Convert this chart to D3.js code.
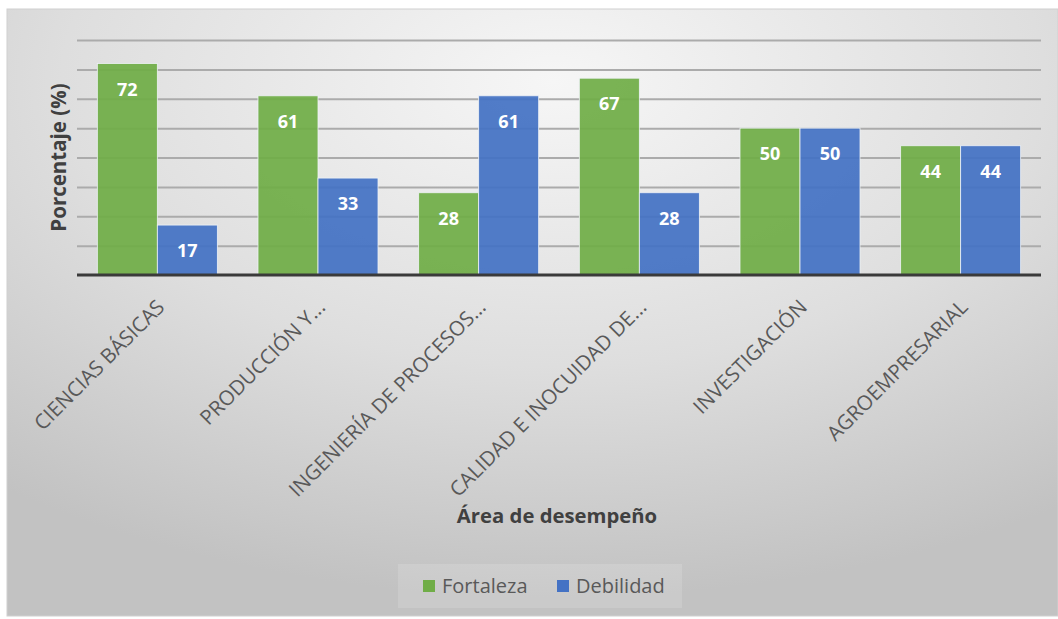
<!DOCTYPE html>
<html>
<head>
<meta charset="utf-8">
<script src="https://cdn.jsdelivr.net/npm/d3@7"></script>
<style>
  html, body { margin: 0; padding: 0; background: #ffffff; }
  svg { display: block; }
</style>
</head>
<body>
<svg id="chart" width="1058" height="619"></svg>
<script>
// Categories (already shortened the way they appear on the axis)
const categories = [
  "CIENCIAS BÁSICAS",
  "PRODUCCIÓN Y...",
  "INGENIERÍA DE PROCESOS...",
  "CALIDAD E INOCUIDAD DE...",
  "INVESTIGACIÓN",
  "AGROEMPRESARIAL"
];
const seriesNames = ["Fortaleza", "Debilidad"];
const fortaleza = [72, 61, 28, 67, 50, 44];
const debilidad = [17, 33, 61, 28, 50, 44];
const gridTicks = [10, 20, 30, 40, 50, 60, 70, 80];

const colors = { Fortaleza: "#70AD47", Debilidad: "#4472C4" };
const font = "'Open Sans', 'Noto Sans', sans-serif";

const svg = d3.select("#chart");
const W = 1058, H = 619;

// Chart area background with a soft radial gradient
const defs = svg.append("defs");
const grad = defs.append("radialGradient")
  .attr("id", "bg")
  .attr("cx", "52%").attr("cy", "12%")
  .attr("r", "85%")
  .attr("fx", "52%").attr("fy", "12%");
grad.append("stop").attr("offset", "0%").attr("stop-color", "#f6f6f6");
grad.append("stop").attr("offset", "55%").attr("stop-color", "#dedede");
grad.append("stop").attr("offset", "100%").attr("stop-color", "#c2c2c2");

svg.append("rect")
  .attr("x", 7).attr("y", 9)
  .attr("width", W - 7).attr("height", H - 12)
  .attr("fill", "url(#bg)")
  .attr("stroke", "#d0d0d0").attr("stroke-width", 1);

// Plot area
const plot = { left: 77, right: 1041, top: 40, bottom: 275 };

const x0 = d3.scaleBand()
  .domain(categories)
  .range([plot.left, plot.right])
  .paddingInner(0.253)
  .paddingOuter(0.1265);

const x1 = d3.scaleBand()
  .domain(seriesNames)
  .range([0, x0.bandwidth()])
  .padding(0);

const y = d3.scaleLinear()
  .domain([0, 80])
  .range([plot.bottom, plot.top]);

// Horizontal gridlines (no tick labels)
const yAxis = d3.axisLeft(y)
  .tickValues(gridTicks)
  .tickSize(-(plot.right - plot.left))
  .tickFormat("");
const gy = svg.append("g")
  .attr("transform", `translate(${plot.left},0)`)
  .call(yAxis);
gy.select(".domain").remove();
gy.selectAll(".tick line")
  .attr("stroke", "#ababab")
  .attr("stroke-width", 2);

// Bars
const rows = categories.map((c, i) => ({
  cat: c,
  values: [
    { key: "Fortaleza", value: fortaleza[i] },
    { key: "Debilidad", value: debilidad[i] }
  ]
}));

const groups = svg.append("g").selectAll("g")
  .data(rows)
  .join("g")
  .attr("transform", d => `translate(${x0(d.cat)},0)`);

groups.selectAll("rect")
  .data(d => d.values)
  .join("rect")
  .attr("x", d => x1(d.key))
  .attr("y", d => y(d.value))
  .attr("width", x1.bandwidth())
  .attr("height", d => y(0) - y(d.value))
  .attr("fill", d => colors[d.key])
  .attr("fill-opacity", 0.93)
  .attr("stroke", "#eef2f6")
  .attr("stroke-width", 0.8);

// Value labels inside the top of each bar
groups.selectAll("text")
  .data(d => d.values)
  .join("text")
  .attr("x", d => x1(d.key) + x1.bandwidth() / 2)
  .attr("y", d => y(d.value) + 32)
  .attr("text-anchor", "middle")
  .attr("font-family", font)
  .attr("font-weight", "bold")
  .attr("font-size", 18)
  .attr("fill", "#ffffff")
  .text(d => d.value);

// Category axis
const xAxis = d3.axisBottom(x0).tickSize(0).tickFormat("");
const gx = svg.append("g")
  .attr("transform", `translate(0,${plot.bottom})`)
  .call(xAxis);
gx.select(".domain")
  .attr("d", `M${plot.left},0H${plot.right}`)
  .attr("stroke", "#3a3a3a")
  .attr("stroke-width", 3);

svg.append("g").selectAll("text")
  .data(categories)
  .join("text")
  .attr("transform", d => `translate(${x0(d) + x0.bandwidth() / 2 - 2},298) rotate(-45)`)
  .attr("dy", "0.72em")
  .attr("text-anchor", "end")
  .attr("font-family", font)
  .attr("font-size", 20.5)
  .attr("fill", "#595959")
  .text(d => d);

// Axis titles
svg.append("text")
  .attr("transform", `translate(66,${(plot.top + plot.bottom) / 2}) rotate(-90)`)
  .attr("text-anchor", "middle")
  .attr("font-family", font)
  .attr("font-weight", "bold")
  .attr("font-size", 20.5)
  .attr("fill", "#404040")
  .text("Porcentaje (%)");

svg.append("text")
  .attr("x", 557)
  .attr("y", 523)
  .attr("text-anchor", "middle")
  .attr("font-family", font)
  .attr("font-weight", "bold")
  .attr("font-size", 20.3)
  .attr("fill", "#404040")
  .text("Área de desempeño");

// Legend
const legend = svg.append("g");
legend.append("rect")
  .attr("x", 398).attr("y", 564)
  .attr("width", 284).attr("height", 44)
  .attr("fill", "#ffffff").attr("fill-opacity", 0.14);

const legendX = [423, 557];
const items = legend.selectAll("g.item")
  .data(seriesNames)
  .join("g")
  .attr("class", "item")
  .attr("transform", (d, i) => `translate(${legendX[i]},580)`);
items.append("rect")
  .attr("width", 12).attr("height", 12)
  .attr("fill", d => colors[d]);
items.append("text")
  .attr("x", 19).attr("y", 13)
  .attr("font-family", font)
  .attr("font-size", 20)
  .attr("fill", "#595959")
  .text(d => d);
</script>
</body>
</html>
